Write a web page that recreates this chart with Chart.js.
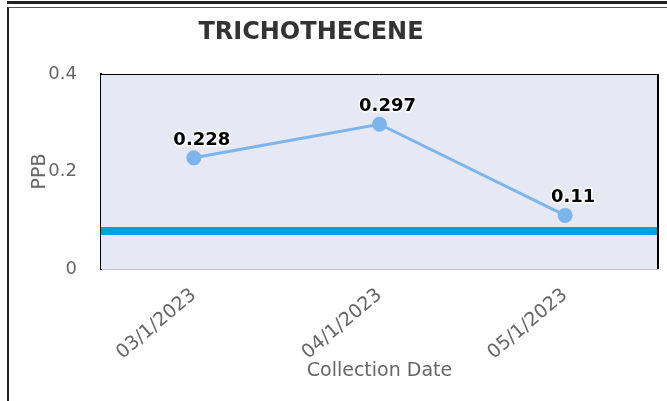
<!DOCTYPE html>
<html>
<head>
<meta charset="utf-8">
<script src="https://cdn.jsdelivr.net/npm/chart.js@4"></script>
<style>
  html, body { margin: 0; padding: 0; background: #fff; }
  #wrap { position: relative; width: 667px; height: 401px; overflow: hidden; }
  #chart { position: absolute; left: 0; top: 0; }
  .topbar { position: absolute; left: 7px; right: 0; top: 1px; height: 0; border-top: 3px solid #222; }
  .frame { position: absolute; left: 7px; right: -10px; top: 7px; bottom: -10px;
           border-left: 2px solid #222; border-top: 1px solid #555; }
  #title { position: absolute; left: 0; width: 622px; top: 17px; text-align: center;
           font: bold 24px "DejaVu Sans"; line-height: 28px; color: #333; }
</style>
</head>
<body>
<div id="wrap">
  <canvas id="chart" width="667" height="401"></canvas>
  <div class="topbar"></div>
  <div class="frame"></div>
  <div id="title">TRICHOTHECENE</div>
</div>
<script>
const dates = ["03/1/2023", "04/1/2023", "05/1/2023"];
const ppb = [0.228, 0.297, 0.11];
const limitValue = 0.078;
const yTicks = [0, 0.2, 0.4];

const plotLook = {
  id: "plotLook",
  beforeDatasetsDraw(chart) {
    const { ctx, chartArea: a, scales } = chart;
    ctx.save();
    ctx.fillStyle = "#e6e9f4";
    ctx.fillRect(a.left, a.top, a.right - a.left, a.bottom - a.top);
    // limit line
    const y = scales.y.getPixelForValue(limitValue);
    ctx.strokeStyle = "#009fdf";
    ctx.lineWidth = 8;
    ctx.beginPath();
    ctx.moveTo(a.left, y);
    ctx.lineTo(a.right, y);
    ctx.stroke();
    // frame
    ctx.strokeStyle = "#000";
    ctx.lineWidth = 1;
    ctx.beginPath();
    ctx.moveTo(a.left, a.top + 0.5);
    ctx.lineTo(a.right, a.top + 0.5);
    ctx.stroke();
    ctx.lineWidth = 2;
    ctx.beginPath();
    ctx.moveTo(a.right, a.top);
    ctx.lineTo(a.right, a.bottom);
    ctx.stroke();
    ctx.restore();
  },
  afterDatasetsDraw(chart) {
    const { ctx } = chart;
    const meta = chart.getDatasetMeta(0);
    ctx.save();
    ctx.font = "bold 18px 'DejaVu Sans'";
    ctx.textAlign = "center";
    ctx.textBaseline = "bottom";
    ctx.lineJoin = "round";
    meta.data.forEach((pt, i) => {
      const txt = String(ppb[i]);
      ctx.strokeStyle = "#fff";
      ctx.lineWidth = 3;
      ctx.strokeText(txt, pt.x + 8, pt.y - 9);
      ctx.fillStyle = "#000";
      ctx.fillText(txt, pt.x + 8, pt.y - 9);
    });
    ctx.restore();
  }
};

new Chart(document.getElementById("chart"), {
  type: "line",
  data: {
    labels: dates,
    datasets: [{
      label: "PPB",
      data: ppb,
      borderColor: "#7cb5ec",
      backgroundColor: "#7cb5ec",
      borderWidth: 3,
      pointRadius: 6,
      pointHoverRadius: 6,
      tension: 0
    }]
  },
  options: {
    responsive: false,
    animation: false,
    layout: { padding: { top: 74, right: 9, bottom: 0, left: 0 } },
    plugins: { legend: { display: false }, tooltip: { enabled: false }, title: { display: false } },
    scales: {
      x: {
        offset: true,
        grid: { display: false, drawTicks: false },
        border: { color: "#c0c4d0", width: 1 },
        ticks: { color: "#666", font: { family: "DejaVu Sans", size: 19 }, minRotation: 40, maxRotation: 40, padding: 15 },
        title: { display: true, text: "Collection Date", color: "#666", font: { family: "DejaVu Sans", size: 19 }, padding: { top: 0, bottom: 19 } },
        afterFit(scale) { scale.height = 132; }
      },
      y: {
        min: 0,
        max: 0.4,
        afterBuildTicks(scale) { scale.ticks = yTicks.map(v => ({ value: v })); },
        grid: { display: false, drawTicks: false },
        border: { color: "#000", width: 2 },
        ticks: { color: "#666", font: { family: "DejaVu Sans", size: 18 }, padding: 24 },
        title: { display: true, text: "PPB", color: "#666", font: { family: "DejaVu Sans", size: 19 }, padding: { top: 29, bottom: 0 } },
        afterFit(scale) { scale.width = 101; }
      }
    }
  },
  plugins: [plotLook]
});
</script>
</body>
</html>
